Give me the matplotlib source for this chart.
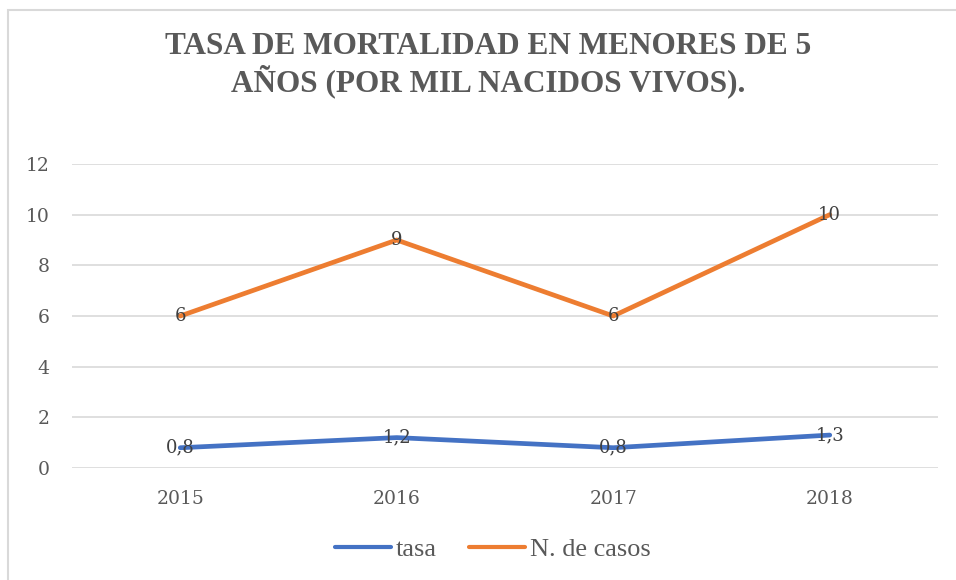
import matplotlib.pyplot as plt
from matplotlib.patches import Rectangle

years = ["2015", "2016", "2017", "2018"]
tasa = [0.8, 1.2, 0.8, 1.3]
casos = [6, 9, 6, 10]
y_ticks = [0, 2, 4, 6, 8, 10, 12]

serif = ["DejaVu Serif"]
times = ["Liberation Serif", "DejaVu Serif"]
gray = "#595959"

fig = plt.figure(figsize=(9.56, 5.8), dpi=100)
ax = fig.add_axes([72 / 956, 1 - 468 / 580, (938 - 72) / 956, (468 - 164) / 580])

# chart border (right and bottom edges are cut off in the reference)
fig.patches.append(Rectangle((8 / 956, -0.1), 1.2, 1 - 10 / 580 + 0.1,
                             transform=fig.transFigure, fill=False,
                             edgecolor="#D9D9D9", lw=1.5))

x = range(len(years))
ax.plot(x, tasa, color="#4472C4", lw=3.4, solid_capstyle="round", label="tasa", zorder=3)
ax.plot(x, casos, color="#ED7D31", lw=3.4, solid_capstyle="round", label="N. de casos", zorder=3)

for xi, v in zip(x, tasa):
    ax.text(xi, v, f"{v:.1f}".replace(".", ","), ha="center", va="center",
            fontsize=13, color="#404040", family=serif, zorder=4)
for xi, v in zip(x, casos):
    ax.text(xi, v, str(v), ha="center", va="center",
            fontsize=13, color="#404040", family=serif, zorder=4)

ax.set_xlim(-0.5, 3.5)
ax.set_ylim(0, 12)
ax.set_yticks(y_ticks)
ax.set_xticks(list(x))
ax.set_xticklabels(years)
ax.grid(axis="y", color="#D9D9D9", lw=1.2)
ax.set_axisbelow(True)
for s in ax.spines.values():
    s.set_visible(False)
ax.tick_params(length=0, labelsize=13.5, labelcolor=gray)
ax.tick_params(axis="x", pad=16)
ax.tick_params(axis="y", pad=16)
for lab in ax.get_xticklabels() + ax.get_yticklabels():
    lab.set_family(serif)

fig.text(488 / 956, 1 - 65 / 580, "TASA DE MORTALIDAD EN MENORES DE 5\nAÑOS (POR MIL NACIDOS VIVOS).",
         ha="center", va="center", fontsize=22.5, fontweight="bold", color=gray,
         family=times, linespacing=1.1)

leg = fig.legend(loc="center", bbox_to_anchor=(493 / 956, 1 - 549 / 580), ncol=2,
                 frameon=False, prop={"family": times, "size": 18.9},
                 handlelength=2.13, handletextpad=0.19, columnspacing=1.22)
for t in leg.get_texts():
    t.set_color(gray)
for h in leg.legend_handles:
    h.set_linewidth(3)

plt.savefig("out.png", dpi=100)
